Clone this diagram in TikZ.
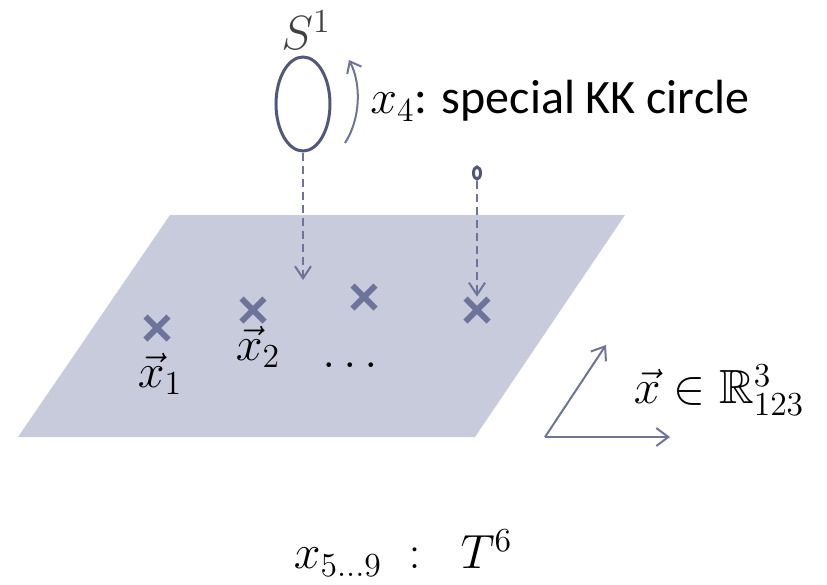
\RequirePackage{fix-cm}
\documentclass[tikz,border=0pt]{standalone}
\usepackage{amsmath,amssymb}
\usepackage{fontspec}
\setmainfont{Carlito}
\usetikzlibrary{arrows.meta,shapes.geometric,shapes.misc}

\definecolor{planefill}{HTML}{C8CBDC}
\definecolor{ringcol}{HTML}{50577A}
\definecolor{arrowcol}{HTML}{6D7399}
\definecolor{crosscol}{HTML}{6E7399}

\tikzset{
  ring/.style={ellipse,draw=ringcol,line width=1.5pt,minimum width=27pt,minimum height=47pt,inner sep=0pt},
  dotring/.style={ellipse,draw=ringcol,line width=1.5pt,minimum width=3.5pt,minimum height=6pt,inner sep=0pt},
  xmark/.style={cross out,draw=crosscol,line width=3pt,minimum size=8.5pt,inner sep=0pt},
  drop/.style={draw=arrowcol,line width=1pt,dash pattern=on 4pt off 2.5pt,-{Straight Barb[length=6pt,width=8pt]}},
  axis/.style={draw=arrowcol,line width=1pt,-{Straight Barb[length=6pt,width=9pt]}},
  turn/.style={draw=arrowcol,line width=1pt,-{Straight Barb[length=5pt,width=8pt]}}
}

\begin{document}
\begin{tikzpicture}[x=0.5pt,y=-0.5pt,font=\fontsize{24}{29}\selectfont]
\useasboundingbox (0,0) rectangle (827,585);

% the plane
\fill[planefill] (170,215) -- (625,215) -- (475,437) -- (18,437) -- cycle;

% the circle and its label
\node[ring] (circ) at (303,104) {};
\node[text=black!75] (s1) at (306,30) {$S^1$};
\coordinate (turnA) at (345,143);
\coordinate (turnB) at (349,60);
\draw[turn] (turnA) .. controls (360,120) and (362,85) .. (turnB);
\node[anchor=west,inner sep=0pt] (kk) at (370,101) {$x_4$: special KK circle};

% small circle
\node[dotring] (pt) at (477,173) {};

% points on the plane
\node[xmark] (x1) at (157,328) {};
\node[xmark] (x2) at (253,310) {};
\node[xmark] (x3) at (364,297) {};
\node[xmark] (x4) at (477,310) {};
\node (l1) at (160,374) {$\vec{x}_1$};
\node (l2) at (258,347) {$\vec{x}_2$};
\node (dots) at (354,365) {$\dots$};

% dropping down
\coordinate (land) at (303,280);
\draw[drop] (circ.south) -- (land);
\draw[drop,shorten >=1pt] (pt.south) -- (x4.north);

% axes
\coordinate (o) at (545,437);
\coordinate (up) at (606,345);
\coordinate (right) at (670,437);
\draw[axis] (o) -- (up);
\draw[axis] (o) -- (right);
\node (rr) at (719,390) {$\vec{x}\in\mathbb{R}^3_{123}$};

% internal torus
\node (tt) at (403,553) {$x_{5\ldots 9}\;:\;\; T^6$};
\end{tikzpicture}
\end{document}
